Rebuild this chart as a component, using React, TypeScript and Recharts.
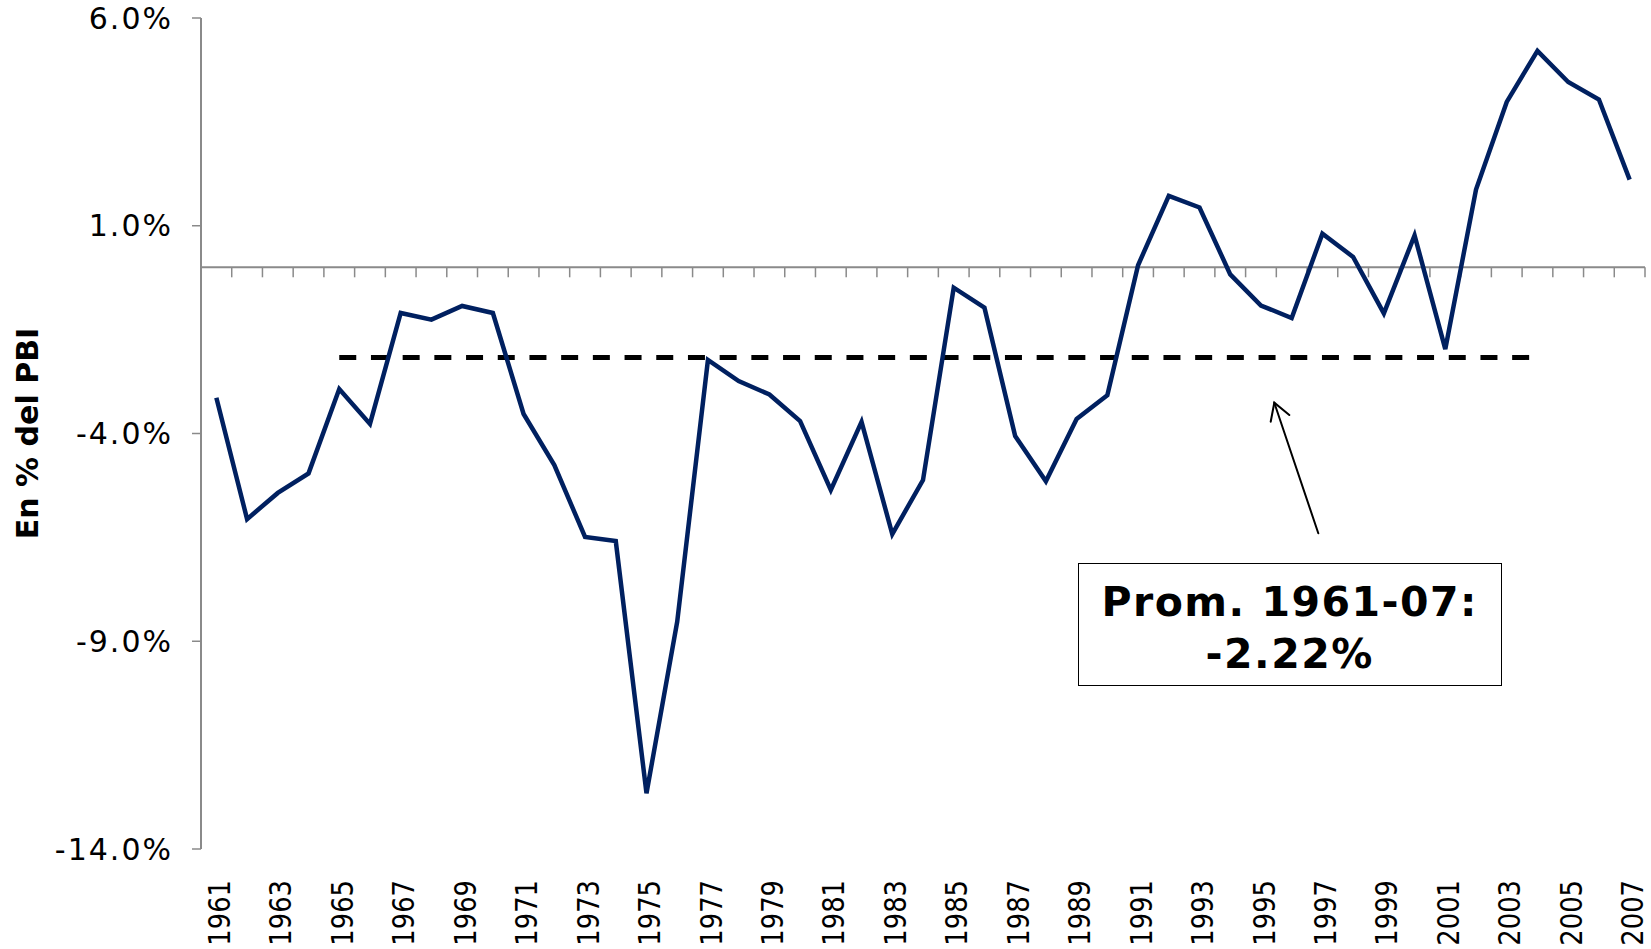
import React from 'react';
import { LineChart, Line, XAxis, YAxis, ReferenceLine } from 'recharts';

const years = [
  '1961', '1962', '1963', '1964', '1965', '1966', '1967', '1968', '1969', '1970',
  '1971', '1972', '1973', '1974', '1975', '1976', '1977', '1978', '1979', '1980',
  '1981', '1982', '1983', '1984', '1985', '1986', '1987', '1988', '1989', '1990',
  '1991', '1992', '1993', '1994', '1995', '1996', '1997', '1998', '1999', '2000',
  '2001', '2002', '2003', '2004', '2005', '2006', '2007',
];

// saldo en % del PBI
const balance = [
  -3.14, -6.06, -5.43, -4.96, -2.93, -3.77, -1.10, -1.26, -0.93, -1.10,
  -3.53, -4.76, -6.49, -6.59, -12.66, -8.53, -2.23, -2.74, -3.06, -3.70,
  -5.36, -3.72, -6.42, -5.12, -0.49, -0.97, -4.06, -5.15, -3.65, -3.08,
  0.05, 1.72, 1.44, -0.17, -0.92, -1.22, 0.81, 0.25, -1.11, 0.77,
  -1.97, 1.87, 3.98, 5.21, 4.46, 4.04, 2.11,
];

const yTicks = [-14, -9, -4, 1, 6];
const avgValue = -2.17;
const avgFrom = '1965';
const avgTo = '2004';

const data = years.map((year, i) => ({ year, value: balance[i] }));

const FONT = '"DejaVu Sans", Verdana, sans-serif';
const AXIS_GRAY = '#8a8a8a';

const XTick = (props: any) => {
  const { x, y, payload } = props;
  return (
    <g transform={`translate(${x},${y + 31})`}>
      <text
        transform="rotate(-90) scale(0.86,1)"
        x={0}
        y={13.6}
        textAnchor="end"
        fontSize={30}
        fontFamily={FONT}
        fill="#000"
      >
        {payload.value}
      </text>
    </g>
  );
};

const YTick = (props: any) => {
  const { x, y, payload } = props;
  return (
    <text
      x={x - 17}
      y={y + 10.5}
      textAnchor="end"
      fontSize={30}
      letterSpacing={2}
      fontFamily={FONT}
      fill="#000"
    >
      {`${payload.value.toFixed(1)}%`}
    </text>
  );
};

// zero line with the category boundary ticks hanging below it
const ZeroAxis = (props: any) => {
  const { x1, y1, x2 } = props;
  const step = (x2 - x1) / years.length;
  return (
    <g>
      <line x1={x1} y1={y1} x2={x2} y2={y1} stroke={AXIS_GRAY} strokeWidth={2} />
      {years.map((_, i) => (
        <line
          key={i}
          x1={x1 + step * (i + 1)}
          x2={x1 + step * (i + 1)}
          y1={y1}
          y2={y1 + 10}
          stroke={AXIS_GRAY}
          strokeWidth={1.5}
        />
      ))}
    </g>
  );
};

const YLabel = (props: any) => {
  const { viewBox } = props;
  const cx = viewBox.x + 38;
  const cy = viewBox.y + viewBox.height / 2;
  return (
    <text
      x={cx}
      y={cy}
      transform={`rotate(-90, ${cx}, ${cy})`}
      textAnchor="middle"
      fontSize={30}
      fontWeight="bold"
      fontFamily={FONT}
      fill="#000"
    >
      En % del PBI
    </text>
  );
};

export default function App() {
  return (
    <div style={{ position: 'absolute', left: 0, top: 0, width: 1651, height: 949, background: '#fff', fontFamily: FONT }}>
      <LineChart width={1651} height={949} data={data} margin={{ top: 18, right: 6, left: 0, bottom: 0 }}>
        <XAxis
          dataKey="year"
          scale="band"
          interval={1}
          axisLine={false}
          tickLine={false}
          tickSize={0}
          tickMargin={0}
          height={100}
          tick={<XTick />}
        />
        <YAxis
          type="number"
          domain={[-14, 6]}
          ticks={yTicks}
          width={201}
          axisLine={{ stroke: AXIS_GRAY, strokeWidth: 2 }}
          tickLine={{ stroke: AXIS_GRAY, strokeWidth: 1.5 }}
          tickSize={9}
          tick={<YTick />}
          label={<YLabel />}
        />
        <ReferenceLine y={0} shape={<ZeroAxis />} />
        <ReferenceLine
          segment={[{ x: avgFrom, y: avgValue }, { x: avgTo, y: avgValue }]}
          stroke="#000"
          strokeWidth={5}
          strokeDasharray="17 14.7"
        />
        <Line
          type="linear"
          dataKey="value"
          stroke="#002060"
          strokeWidth={4.5}
          dot={false}
          isAnimationActive={false}
        />
      </LineChart>

      <svg width={1651} height={949} style={{ position: 'absolute', left: 0, top: 0, pointerEvents: 'none' }}>
        <g stroke="#000" strokeWidth={2} fill="none" strokeLinecap="round">
          <line x1={1318.3} y1={533.3} x2={1274.3} y2={402.7} />
          <polyline points="1270.7,421.7 1274.3,402.7 1289.3,415" />
        </g>
      </svg>

      <div
        style={{
          position: 'absolute',
          left: 1077.7,
          top: 562.7,
          width: 424,
          height: 123,
          boxSizing: 'border-box',
          border: '1.5px solid #000',
          background: '#fff',
          paddingTop: 12,
          textAlign: 'center',
          fontFamily: FONT,
          fontWeight: 'bold',
          fontSize: 41,
          letterSpacing: 1.5,
          lineHeight: '52px',
          color: '#000',
        }}
      >
        <div>Prom. 1961-07:</div>
        <div>-2.22%</div>
      </div>
    </div>
  );
}
